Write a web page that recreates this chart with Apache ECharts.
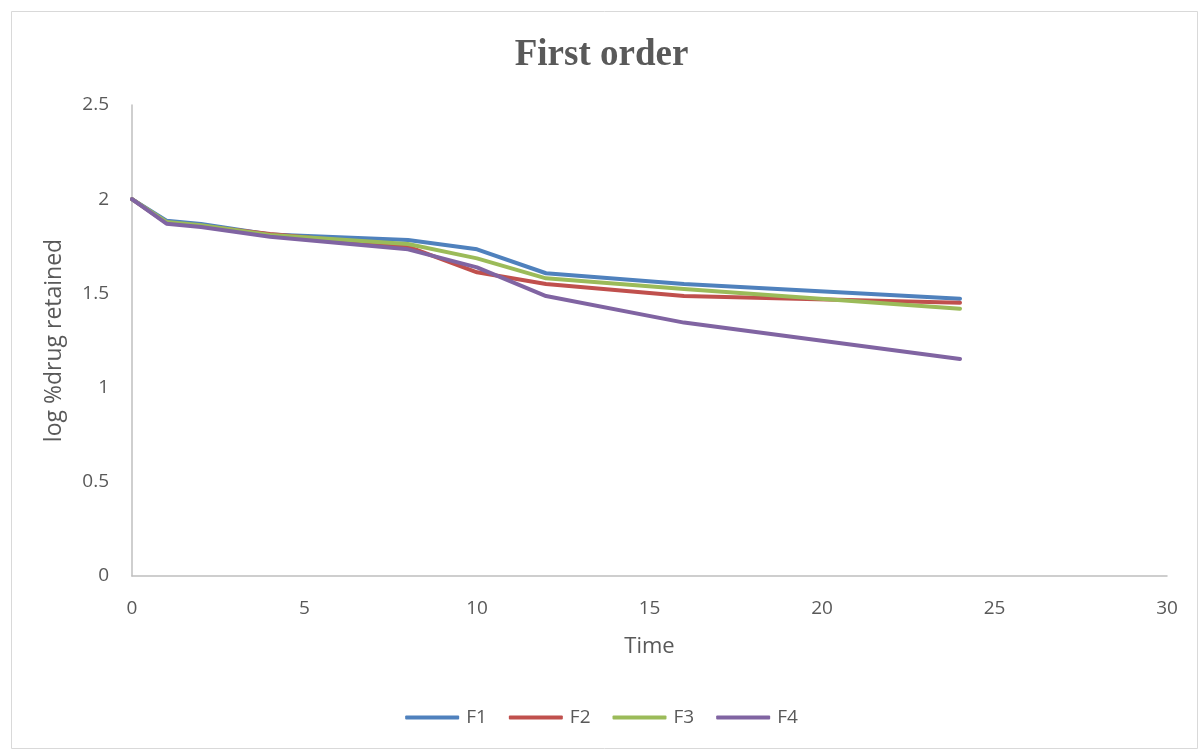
<!DOCTYPE html>
<html>
<head>
<meta charset="utf-8">
<script src="https://cdn.jsdelivr.net/npm/echarts@6/dist/echarts.min.js"></script>
<style>
  html, body { margin: 0; padding: 0; background: #fff; }
  #chart { width: 1203px; height: 752px; }
</style>
</head>
<body>
<div id="chart"></div>
<script>
// Sampling times (h)
const time = [0, 1, 2, 4, 8, 10, 12, 16, 24];

// log % drug retained for each formulation
const F1 = [2.00, 1.886, 1.868, 1.813, 1.783, 1.734, 1.607, 1.550, 1.472];
const F2 = [2.00, 1.874, 1.858, 1.815, 1.748, 1.612, 1.550, 1.486, 1.451];
const F3 = [2.00, 1.879, 1.862, 1.810, 1.762, 1.686, 1.580, 1.523, 1.419];
const F4 = [2.00, 1.870, 1.852, 1.801, 1.734, 1.638, 1.486, 1.345, 1.152];

const seriesNames = ['F1', 'F2', 'F3', 'F4'];
const seriesValues = [F1, F2, F3, F4];
const colors = ['#4f81bd', '#c0504d', '#9bbb59', '#8064a2'];

const textColor = '#595959';
const axisColor = '#bfbfbf';
const font = '"Open Sans", "Liberation Sans", sans-serif';

const chart = echarts.init(document.getElementById('chart'), null, { renderer: 'canvas' });

chart.setOption({
  animation: false,
  backgroundColor: '#ffffff',
  color: colors,
  title: {
    text: 'First order',
    left: 'center',
    top: 32,
    textStyle: {
      fontFamily: '"Liberation Serif", "Times New Roman", serif',
      fontWeight: 'bold',
      fontSize: 37,
      color: textColor
    }
  },
  graphic: [{
    type: 'rect',
    left: 9,
    top: 9,
    shape: { width: 1186, height: 737 },
    style: { fill: 'none', stroke: '#d9d9d9', lineWidth: 1 },
    silent: true
  }],
  legend: {
    bottom: 20,
    left: 'center',
    itemWidth: 54,
    itemHeight: 4,
    itemGap: 22,
    icon: 'roundRect',
    textStyle: { fontFamily: font, fontSize: 19, color: textColor, padding: [0, 0, 0, 2] },
    data: seriesNames
  },
  grid: {
    left: 132,
    right: 36,
    top: 105,
    bottom: 176,
    containLabel: false
  },
  xAxis: {
    type: 'value',
    min: 0,
    max: 30,
    interval: 5,
    name: 'Time',
    nameLocation: 'middle',
    nameGap: 60,
    nameTextStyle: { fontFamily: font, fontSize: 22, color: textColor },
    axisLine: { show: true, lineStyle: { color: axisColor, width: 1.5 } },
    axisTick: { show: false },
    splitLine: { show: false },
    axisLabel: { fontFamily: font, fontSize: 19, color: textColor, margin: 23 }
  },
  yAxis: {
    type: 'value',
    min: 0,
    max: 2.5,
    interval: 0.5,
    name: 'log %drug retained',
    nameLocation: 'middle',
    nameGap: 66,
    nameTextStyle: { fontFamily: font, fontSize: 23, color: textColor },
    axisLine: { show: true, lineStyle: { color: axisColor, width: 1.5 } },
    axisTick: { show: false },
    splitLine: { show: false },
    axisLabel: { fontFamily: font, fontSize: 19, color: textColor, margin: 23 }
  },
  series: seriesNames.map((name, i) => ({
    name: name,
    type: 'line',
    data: time.map((t, j) => [t, seriesValues[i][j]]),
    showSymbol: false,
    symbol: 'none',
    lineStyle: { width: 4, color: colors[i], cap: 'round', join: 'round' },
    itemStyle: { color: colors[i] }
  }))
});
</script>
</body>
</html>
